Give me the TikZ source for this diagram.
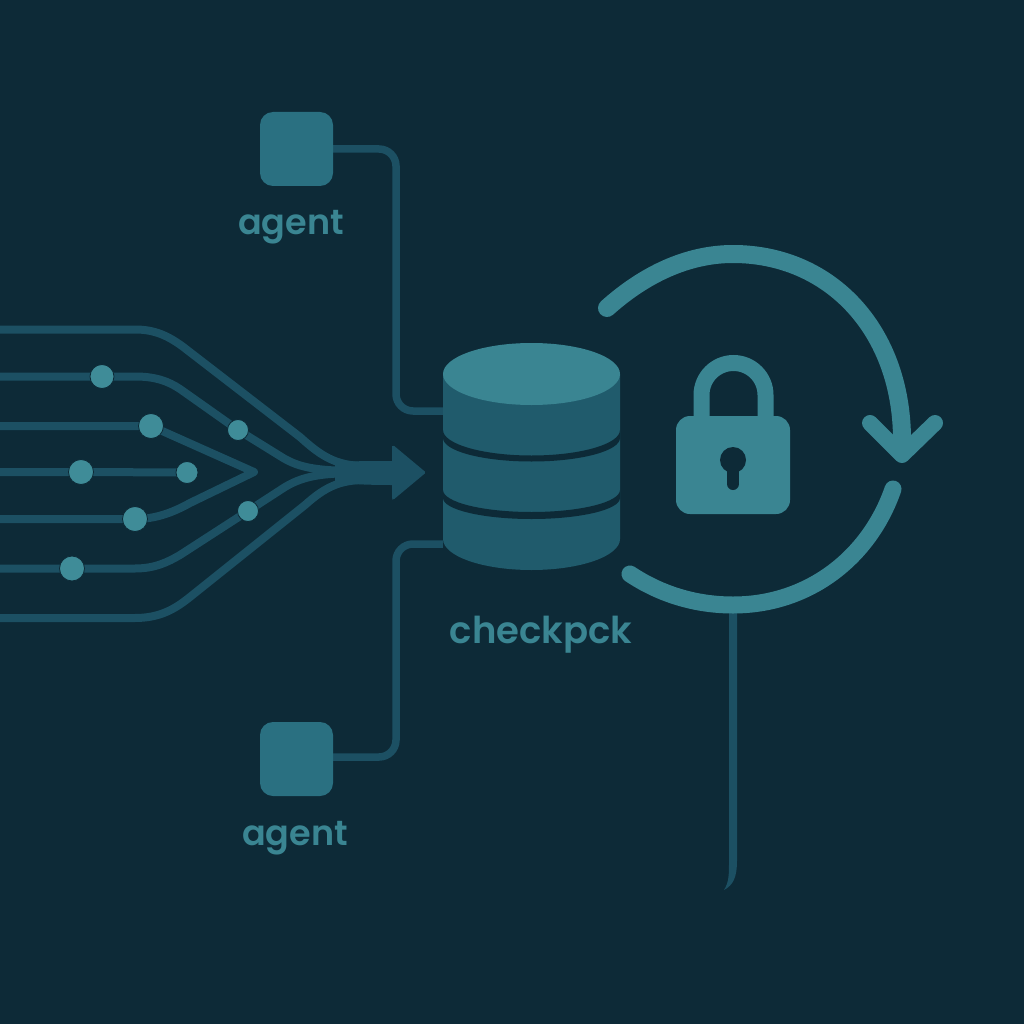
\documentclass[tikz,border=0pt]{standalone}
\usepackage{fontspec}
\setmainfont{Poppins SemiBold}
\usetikzlibrary{backgrounds}
\definecolor{bgc}{HTML}{0D2A37}
\definecolor{linec}{HTML}{1C5063}
\definecolor{lightc}{HTML}{3A8592}
\definecolor{dotc}{HTML}{3F8C98}
\definecolor{bodyc}{HTML}{205B6C}
\definecolor{agentc}{HTML}{2A7081}
\tikzset{
  flow/.style={draw=linec,line width=8pt,line cap=butt},
  link/.style={draw=linec,line width=7.5pt,rounded corners=17pt},
  dotn/.style={circle,fill=dotc,draw=bgc,line width=0.8pt,inner sep=0pt,minimum size=#1},
  agentn/.style={rectangle,rounded corners=13pt,fill=agentc,minimum width=73pt,minimum height=74pt,inner sep=0pt},
  lab/.style={text=lightc,inner sep=0pt,anchor=base,font=\fontsize{35}{35}\selectfont},
  ring/.style={draw=lightc,line width=18pt,line cap=round,line join=round},
}
\begin{document}
\begin{tikzpicture}[x=1pt,y=-1pt]
\useasboundingbox (0,0) rectangle (1024,1024);
\begin{scope}[on background layer]
\fill[bgc] (0,0) rectangle (1024,1024);
\end{scope}
% named ends
\coordinate (s1) at (0,329.5); \coordinate (s2) at (0,376.5); \coordinate (s3) at (0,426);
\coordinate (s4) at (0,472);  \coordinate (s5) at (0,519); \coordinate (s6) at (0,568.5);
\coordinate (s7) at (0,618);  \coordinate (tip) at (254,472);
% nodes
\node[dotn=24pt] (d2) at (102,376.5) {};
\node[dotn=25pt] (d3) at (151,426) {};
\node[dotn=21pt] (d2b) at (238,430) {};
\node[dotn=25pt] (d4) at (81,472) {};
\node[dotn=22pt] (d4b) at (187,472.5) {};
\node[dotn=25pt] (d5) at (135,519) {};
\node[dotn=21pt] (d6b) at (248,511) {};
\node[dotn=25pt] (d6) at (72,568.5) {};
\node[agentn] (a1) at (296.5,149) {};
\node[agentn] (a2) at (296.5,759) {};
\node[lab] (la1) at (291,235) {agent};
\node[lab] (la2) at (295,845) {agent};
\node[lab,font=\fontsize{37}{37}\selectfont] (lc) at (541,643) {checkpck};
\node[minimum width=177pt,minimum height=227pt,inner sep=0pt] (db) at (531.5,457) {};
% cylinder
\fill[bodyc] (443,374) -- (443,539) arc[start angle=180,end angle=0,x radius=88.5,y radius=31] -- (620,374) -- cycle;
\fill[bgc] (443,430) arc[start angle=180,end angle=0,x radius=88.5,y radius=25.5]
  -- (620,438) arc[start angle=0,end angle=180,x radius=88.5,y radius=23.5] -- cycle;
\fill[bgc] (443,490) arc[start angle=180,end angle=0,x radius=88.5,y radius=22]
  -- (620,498) arc[start angle=0,end angle=180,x radius=88.5,y radius=21] -- cycle;
\fill[lightc] (531.5,374) ellipse[x radius=88.5,y radius=31];
% connectors
\begin{scope}[on background layer]
\draw[flow] (s1) -- (135,329.5) .. controls (155,329.5) and (168,336) .. (182,346)
  -- (300,437) .. controls (320,455) and (335,466) .. (365,466);
\draw[flow] (s2) -- (135,376.5) .. controls (155,376.5) and (168,381) .. (180,389)
  -- (d2b.center) -- (280,456) .. controls (300,469) and (320,471) .. (365,471);
\draw[flow,line join=round] (s3) -- (d3.center) -- (tip) -- (190,503) .. controls (172,513) and (155,519) .. (d5.center) -- (s5);
\draw[flow] (s4) -- (d4.center) -- (d4b.center);
\draw[flow] (s6) -- (135,568.5) .. controls (155,568.5) and (168,562) .. (180,555)
  -- (d6b.center) -- (285,487) .. controls (305,475) and (325,473) .. (365,473);
\draw[flow] (s7) -- (135,618) .. controls (160,618) and (175,609) .. (190,597)
  -- (305,505) .. controls (325,487) and (340,480) .. (365,480);
\fill[linec] (335,463) .. controls (350,461) and (365,461) .. (392,461) -- (392,446)
  [rounded corners=1.5pt] -- (393,445) -- (426,472.5) -- (393,500) -- (392,499) [sharp corners] -- (392,485)
  .. controls (365,485) and (350,484) .. (335,482) -- cycle;
\draw[link] (a1.east) -- (396,149) -- (396,411) -- (db.west |- 0,411);
\draw[link] ([yshift=2pt]a2.east) -- (396,757) -- (396,544) -- (db.west |- 0,544);
\end{scope}
% tail line
\fill[linec] (729,610) -- (737,610) -- (737,860) .. controls (737,878) and (733,885) .. (724,890)
  .. controls (729,882) and (729,875) .. (729,860) -- cycle;
% ring
\draw[ring] (607,308) .. controls (645,274) and (688,254) .. (733,254)
  .. controls (830,254) and (902,330) .. (902,440);
\draw[ring,line width=16pt] (870,423) -- (902,455) -- (935,423);
\draw[ring,line width=17pt] (893,489) .. controls (870,556) and (810,605) .. (733,605)
  .. controls (695,605) and (660,594) .. (630,574);
% lock
\draw[lightc,line width=16pt] (701.5,420) -- (701.5,395) arc[start angle=180,end angle=360,radius=32] -- (765.5,420);
\fill[lightc,rounded corners=14pt] (676,416) rectangle (790,514);
\fill[bgc] (733,460) circle[radius=13];
\draw[bgc,line width=12pt,line cap=round] (733,465) -- (733,484);
\end{tikzpicture}
\end{document}
